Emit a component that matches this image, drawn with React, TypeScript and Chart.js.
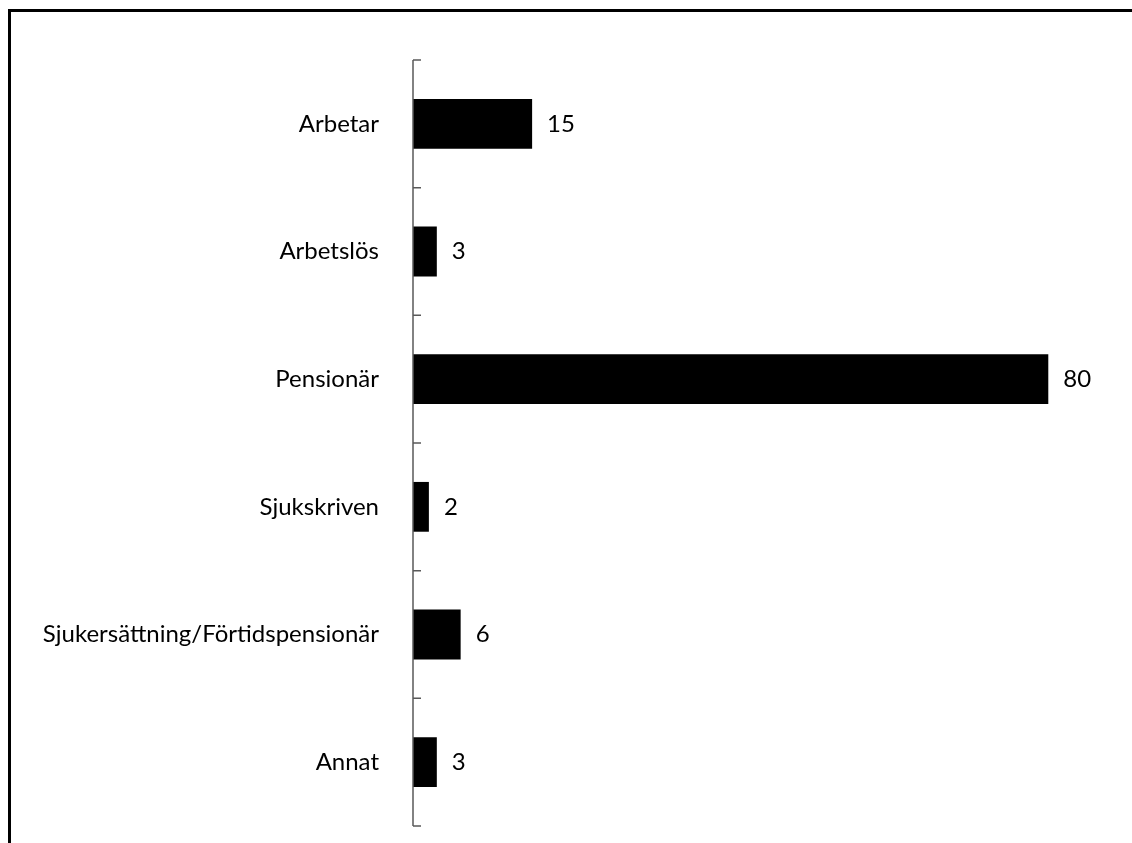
import React, { useEffect, useRef } from "react";
import { Chart, registerables } from "chart.js";

Chart.register(...registerables);

const categories = [
  "Arbetar",
  "Arbetslös",
  "Pensionär",
  "Sjukskriven",
  "Sjukersättning/Förtidspensionär",
  "Annat",
];
const values = [15, 3, 80, 2, 6, 3];
const xMax = 85;

const FONT = "Lato";

const axisPlugin = {
  id: "axisPlugin",
  afterDatasetsDraw(chart: any) {
    const ctx = chart.ctx;
    const area = chart.chartArea;
    const y = chart.scales.y;
    const n = chart.data.labels.length;
    ctx.save();
    ctx.strokeStyle = "#595959";
    ctx.lineWidth = 1.5;
    const x0 = area.left;
    ctx.beginPath();
    ctx.moveTo(x0, area.top);
    ctx.lineTo(x0, area.bottom);
    const bounds: number[] = [area.top];
    for (let i = 0; i < n - 1; i++) {
      bounds.push((y.getPixelForValue(i) + y.getPixelForValue(i + 1)) / 2);
    }
    bounds.push(area.bottom);
    bounds.forEach((b) => {
      ctx.moveTo(x0, b);
      ctx.lineTo(x0 + 8, b);
    });
    ctx.stroke();

    // value labels
    const meta = chart.getDatasetMeta(0);
    ctx.fillStyle = "#000";
    ctx.font = `24px ${FONT}`;
    ctx.textAlign = "left";
    ctx.textBaseline = "middle";
    meta.data.forEach((bar: any, i: number) => {
      const v = chart.data.datasets[0].data[i];
      ctx.fillText(String(v), bar.x + 15, bar.y);
    });
    ctx.restore();
  },
};

export default function App() {
  const ref = useRef<HTMLCanvasElement | null>(null);

  useEffect(() => {
    if (!ref.current) return;
    const chart = new Chart(ref.current, {
      type: "bar",
      data: {
        labels: categories,
        datasets: [
          {
            data: values,
            backgroundColor: "#000",
            borderWidth: 0,
            barPercentage: 0.39,
            categoryPercentage: 1,
          },
        ],
      },
      options: {
        indexAxis: "y",
        animation: false,
        responsive: false,
        maintainAspectRatio: false,
        layout: { padding: { left: 0, top: 60, bottom: 17, right: 44 } },
        plugins: {
          legend: { display: false },
          tooltip: { enabled: false },
        },
        scales: {
          x: {
            display: false,
            min: 0,
            max: xMax,
          },
          y: {
            grid: { display: false },
            border: { display: false },
            ticks: {
              color: "#000",
              padding: 26,
              font: { family: FONT, size: 24 },
            },
            afterFit(scale: any) {
              scale.width = 413;
              scale.paddingTop = 0;
              scale.paddingBottom = 0;
            },
          },
        },
      },
      plugins: [axisPlugin],
    });
    return () => chart.destroy();
  }, []);

  return (
    <div>
      <canvas
        ref={ref}
        width={1132}
        height={843}
        style={{ position: "fixed", left: 0, top: 0, width: 1132, height: 843 }}
      />
      <div
        style={{
          position: "fixed",
          left: 8,
          top: 9,
          width: 1200,
          height: 900,
          borderTop: "3px solid #000",
          borderLeft: "3px solid #000",
          pointerEvents: "none",
        }}
      />
    </div>
  );
}
